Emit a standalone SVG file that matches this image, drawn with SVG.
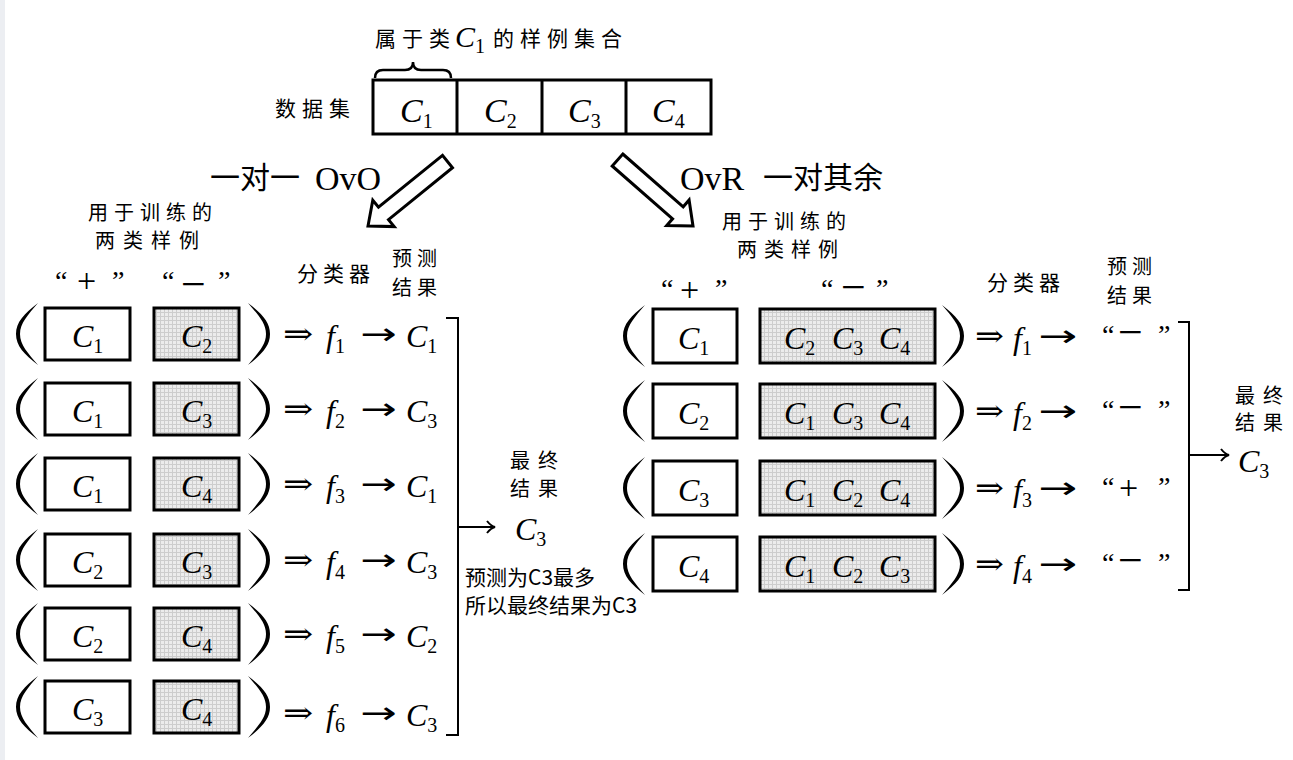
<svg xmlns="http://www.w3.org/2000/svg" width="1293" height="760" viewBox="0 0 1293 760">
<style>
.mi{font-family:"Liberation Serif",serif;font-style:italic;font-size:32px;fill:#000}
.sub{font-family:"Liberation Serif",serif;font-style:normal;font-size:20px}
.dar{font-family:"DejaVu Serif",serif;font-size:30px;fill:#000}
.sar{font-family:"DejaVu Sans",sans-serif;font-size:30px;fill:#000}
.q{font-family:"Liberation Serif",serif;font-size:28px;fill:#000}
.sg{font-size:34px}
.mn{font-size:44px}
.cjk{font-family:"Noto Sans CJK SC",sans-serif;font-size:20px;letter-spacing:6px;fill:#000}
.big{font-family:"Noto Sans CJK SC",sans-serif;font-size:30px;fill:#000}
.rm{font-family:"Liberation Serif",serif;font-size:34px;fill:#000}
.note{font-family:"Noto Sans CJK SC",sans-serif;font-size:21px;fill:#000}
.box{fill:#fff;stroke:#000;stroke-width:3}
.gbox{fill:url(#dots);stroke:#000;stroke-width:3}
.line{fill:none;stroke:#000;stroke-width:2}
.harrow{fill:#fff;stroke:#000;stroke-width:3;stroke-linejoin:miter}
</style>
<defs>
<pattern id="dots" width="4" height="4" patternUnits="userSpaceOnUse">
<rect width="4" height="4" fill="#ececec"/>
<path d="M0,0.5H4M0.5,0V4" stroke="#cdcdcd" stroke-width="1"/>
</pattern>
<path id="lp" d="M0,-31 C-14,-20 -22,-12 -22,0 C-22,12 -14,20 0,31 C-10,19 -18,11 -18,0 C-18,-11 -10,-19 0,-31 Z"/>
<path id="rp" d="M0,-31 C14,-20 22,-12 22,0 C22,12 14,20 0,31 C10,19 18,11 18,0 C18,-11 10,-19 0,-31 Z"/>
<marker id="ah" markerWidth="12" markerHeight="14" refX="10" refY="7" orient="auto" markerUnits="userSpaceOnUse">
<path d="M2,1 Q6,6 10,7 Q6,8 2,13" fill="none" stroke="#000" stroke-width="2"/>
</marker>
</defs>
<rect width="1293" height="760" fill="#fff"/>
<rect width="5" height="760" fill="#eceef2"/>

<g id="dataset">
<text class="cjk" x="275" y="116" style="font-size:21px">数据集</text>
<rect class="box" x="373" y="80" width="338" height="54"/>
<path class="line" d="M457,80V134M542,80V134M626,80V134" style="stroke-width:3"/>
<text class="mi" x="400" y="122" style="font-size:34px">C<tspan class="sub" dy="6">1</tspan></text>
<text class="mi" x="484" y="122" style="font-size:34px">C<tspan class="sub" dy="6">2</tspan></text>
<text class="mi" x="568" y="122" style="font-size:34px">C<tspan class="sub" dy="6">3</tspan></text>
<text class="mi" x="652" y="122" style="font-size:34px">C<tspan class="sub" dy="6">4</tspan></text>
</g>

<g id="c1-brace">
<path class="line" d="M375,78 Q375,70 383,70 L405,70 Q413,70 413,62 Q413,70 421,70 L443,70 Q451,70 451,78" style="stroke-width:2.5"/>
<text class="cjk" x="375" y="46" style="font-size:21px">属于类</text>
<text class="mi" x="455" y="47" style="font-size:30px">C<tspan class="sub" dy="6">1</tspan></text>
<text class="cjk" x="493" y="46" style="font-size:21px">的样例集合</text>
</g>

<g id="ovo-title">
<text class="big" x="210" y="188">一对一</text>
<text class="rm" x="315" y="190">OvO</text>
<polygon class="harrow" points="442.5,155.3 378.5,207.2 372.8,200.2 368,226 394.2,226.6 388.5,219.6 452.5,167.7"/>
</g>

<g id="ovr-title">
<polygon class="harrow" points="622.8,154 683.2,206.8 689.1,200 693,226 666.7,225.6 672.6,218.8 612.2,166"/>
<text class="rm" x="680" y="190">OvR</text>
<text class="big" x="763" y="188">一对其余</text>
</g>

<g id="ovo-headers">
<text class="cjk" x="88" y="220">用于训练的</text>
<text class="cjk" x="95" y="248" style="letter-spacing:8px">两类样例</text>
<text class="q" x="55" y="290">“<tspan class="sg" x="77" y="292">+</tspan><tspan x="112" y="290">”</tspan></text>
<text class="q" x="162" y="290">“<tspan class="mn" x="181" y="299">−</tspan><tspan x="218" y="290">”</tspan></text>
<text class="cjk" x="297" y="281" style="font-size:21px;letter-spacing:5px">分类器</text>
<text class="cjk" x="392" y="266" style="letter-spacing:5px">预测</text>
<text class="cjk" x="392" y="295" style="letter-spacing:5px">结果</text>
</g>

<g id="ovo-row1">
<use href="#lp" transform="translate(38,334)"/>
<rect class="box" x="45" y="308" width="85" height="52"/>
<rect class="gbox" x="154" y="308" width="85" height="52"/>
<use href="#rp" transform="translate(248,334)"/>
<text class="mi" x="72" y="347">C<tspan class="sub" dy="6">1</tspan></text>
<text class="mi" x="181" y="347">C<tspan class="sub" dy="6">2</tspan></text>
<text class="dar" transform="translate(283,344) scale(1.2,1)">⇒</text>
<text class="mi" x="326" y="347">f<tspan class="sub" dy="6">1</tspan></text>
<text class="sar" transform="translate(360,344) scale(1.45,1)">→</text>
<text class="mi" x="406" y="347">C<tspan class="sub" dy="6">1</tspan></text>
</g>
<g id="ovo-row2">
<use href="#lp" transform="translate(38,409)"/>
<rect class="box" x="45" y="383" width="85" height="52"/>
<rect class="gbox" x="154" y="383" width="85" height="52"/>
<use href="#rp" transform="translate(248,409)"/>
<text class="mi" x="72" y="422">C<tspan class="sub" dy="6">1</tspan></text>
<text class="mi" x="181" y="422">C<tspan class="sub" dy="6">3</tspan></text>
<text class="dar" transform="translate(283,419) scale(1.2,1)">⇒</text>
<text class="mi" x="326" y="422">f<tspan class="sub" dy="6">2</tspan></text>
<text class="sar" transform="translate(360,419) scale(1.45,1)">→</text>
<text class="mi" x="406" y="422">C<tspan class="sub" dy="6">3</tspan></text>
</g>
<g id="ovo-row3">
<use href="#lp" transform="translate(38,484)"/>
<rect class="box" x="45" y="458" width="85" height="52"/>
<rect class="gbox" x="154" y="458" width="85" height="52"/>
<use href="#rp" transform="translate(248,484)"/>
<text class="mi" x="72" y="497">C<tspan class="sub" dy="6">1</tspan></text>
<text class="mi" x="181" y="497">C<tspan class="sub" dy="6">4</tspan></text>
<text class="dar" transform="translate(283,494) scale(1.2,1)">⇒</text>
<text class="mi" x="326" y="497">f<tspan class="sub" dy="6">3</tspan></text>
<text class="sar" transform="translate(360,494) scale(1.45,1)">→</text>
<text class="mi" x="406" y="497">C<tspan class="sub" dy="6">1</tspan></text>
</g>
<g id="ovo-row4">
<use href="#lp" transform="translate(38,560)"/>
<rect class="box" x="45" y="534" width="85" height="52"/>
<rect class="gbox" x="154" y="534" width="85" height="52"/>
<use href="#rp" transform="translate(248,560)"/>
<text class="mi" x="72" y="573">C<tspan class="sub" dy="6">2</tspan></text>
<text class="mi" x="181" y="573">C<tspan class="sub" dy="6">3</tspan></text>
<text class="dar" transform="translate(283,570) scale(1.2,1)">⇒</text>
<text class="mi" x="326" y="573">f<tspan class="sub" dy="6">4</tspan></text>
<text class="sar" transform="translate(360,570) scale(1.45,1)">→</text>
<text class="mi" x="406" y="573">C<tspan class="sub" dy="6">3</tspan></text>
</g>
<g id="ovo-row5">
<use href="#lp" transform="translate(38,634)"/>
<rect class="box" x="45" y="608" width="85" height="52"/>
<rect class="gbox" x="154" y="608" width="85" height="52"/>
<use href="#rp" transform="translate(248,634)"/>
<text class="mi" x="72" y="647">C<tspan class="sub" dy="6">2</tspan></text>
<text class="mi" x="181" y="647">C<tspan class="sub" dy="6">4</tspan></text>
<text class="dar" transform="translate(283,644) scale(1.2,1)">⇒</text>
<text class="mi" x="326" y="647">f<tspan class="sub" dy="6">5</tspan></text>
<text class="sar" transform="translate(360,644) scale(1.45,1)">→</text>
<text class="mi" x="406" y="647">C<tspan class="sub" dy="6">2</tspan></text>
</g>
<g id="ovo-row6">
<use href="#lp" transform="translate(38,707)"/>
<rect class="box" x="45" y="681" width="85" height="52"/>
<rect class="gbox" x="154" y="681" width="85" height="52"/>
<use href="#rp" transform="translate(248,707)"/>
<text class="mi" x="72" y="720">C<tspan class="sub" dy="6">3</tspan></text>
<text class="mi" x="181" y="720">C<tspan class="sub" dy="6">4</tspan></text>
<text class="dar" transform="translate(283,723) scale(1.2,1)">⇒</text>
<text class="mi" x="326" y="726">f<tspan class="sub" dy="6">6</tspan></text>
<text class="sar" transform="translate(360,723) scale(1.45,1)">→</text>
<text class="mi" x="406" y="726">C<tspan class="sub" dy="6">3</tspan></text>
</g>

<g id="ovo-result">
<text class="cjk" x="510" y="468" style="font-size:20px;letter-spacing:8px">最终</text>
<text class="cjk" x="510" y="496" style="font-size:20px;letter-spacing:8px">结果</text>
<text class="mi" x="515" y="540">C<tspan class="sub" dy="6">3</tspan></text>
</g>

<g id="ovo-note">
<text class="note" x="465" y="585">预测为C3最多</text>
<text class="note" x="465" y="613">所以最终结果为C3</text>
</g>

<g id="ovr-headers">
<text class="cjk" x="722" y="229">用于训练的</text>
<text class="cjk" x="737" y="257" style="letter-spacing:7px">两类样例</text>
<text class="q" x="661" y="298">“<tspan class="sg" x="680" y="301">+</tspan><tspan x="715" y="298">”</tspan></text>
<text class="q" x="821" y="298">“<tspan class="mn" x="841" y="302">−</tspan><tspan x="876" y="298">”</tspan></text>
<text class="cjk" x="987" y="290" style="font-size:21px;letter-spacing:5px">分类器</text>
<text class="cjk" x="1107" y="274" style="letter-spacing:5px">预测</text>
<text class="cjk" x="1107" y="303" style="letter-spacing:5px">结果</text>
</g>

<g id="ovr-row1">
<use href="#lp" transform="translate(645,336)"/>
<rect class="box" x="653" y="309" width="84" height="54"/>
<rect class="gbox" x="760" y="309" width="175" height="54"/>
<use href="#rp" transform="translate(942,336)"/>
<text class="mi" x="678" y="349">C<tspan class="sub" dy="6">1</tspan></text>
<text class="mi" x="784" y="349">C<tspan class="sub" dy="6">2</tspan></text>
<text class="mi" x="832" y="349">C<tspan class="sub" dy="6">3</tspan></text>
<text class="mi" x="879" y="349">C<tspan class="sub" dy="6">4</tspan></text>
<text class="dar" transform="translate(975,346) scale(1.15,1)">⇒</text>
<text class="mi" x="1013" y="349">f<tspan class="sub" dy="6">1</tspan></text>
<text class="sar" transform="translate(1038,346) scale(1.55,1)">→</text>
<text class="q" x="1102" y="344">“<tspan class="mn" x="1118" y="347">−</tspan><tspan x="1158" y="344">”</tspan></text>
</g>
<g id="ovr-row2">
<use href="#lp" transform="translate(645,411)"/>
<rect class="box" x="653" y="384" width="84" height="54"/>
<rect class="gbox" x="760" y="384" width="175" height="54"/>
<use href="#rp" transform="translate(942,411)"/>
<text class="mi" x="678" y="424">C<tspan class="sub" dy="6">2</tspan></text>
<text class="mi" x="784" y="424">C<tspan class="sub" dy="6">1</tspan></text>
<text class="mi" x="832" y="424">C<tspan class="sub" dy="6">3</tspan></text>
<text class="mi" x="879" y="424">C<tspan class="sub" dy="6">4</tspan></text>
<text class="dar" transform="translate(975,421) scale(1.15,1)">⇒</text>
<text class="mi" x="1013" y="424">f<tspan class="sub" dy="6">2</tspan></text>
<text class="sar" transform="translate(1038,421) scale(1.55,1)">→</text>
<text class="q" x="1102" y="419">“<tspan class="mn" x="1118" y="422">−</tspan><tspan x="1158" y="419">”</tspan></text>
</g>
<g id="ovr-row3">
<use href="#lp" transform="translate(645,488)"/>
<rect class="box" x="653" y="461" width="84" height="54"/>
<rect class="gbox" x="760" y="461" width="175" height="54"/>
<use href="#rp" transform="translate(942,488)"/>
<text class="mi" x="678" y="501">C<tspan class="sub" dy="6">3</tspan></text>
<text class="mi" x="784" y="501">C<tspan class="sub" dy="6">1</tspan></text>
<text class="mi" x="832" y="501">C<tspan class="sub" dy="6">2</tspan></text>
<text class="mi" x="879" y="501">C<tspan class="sub" dy="6">4</tspan></text>
<text class="dar" transform="translate(975,498) scale(1.15,1)">⇒</text>
<text class="mi" x="1013" y="501">f<tspan class="sub" dy="6">3</tspan></text>
<text class="sar" transform="translate(1038,498) scale(1.55,1)">→</text>
<text class="q" x="1102" y="496">“<tspan class="sg" x="1119" y="499">+</tspan><tspan x="1158" y="496">”</tspan></text>
</g>
<g id="ovr-row4">
<use href="#lp" transform="translate(645,564)"/>
<rect class="box" x="653" y="537" width="84" height="54"/>
<rect class="gbox" x="760" y="537" width="175" height="54"/>
<use href="#rp" transform="translate(942,564)"/>
<text class="mi" x="678" y="577">C<tspan class="sub" dy="6">4</tspan></text>
<text class="mi" x="784" y="577">C<tspan class="sub" dy="6">1</tspan></text>
<text class="mi" x="832" y="577">C<tspan class="sub" dy="6">2</tspan></text>
<text class="mi" x="879" y="577">C<tspan class="sub" dy="6">3</tspan></text>
<text class="dar" transform="translate(975,574) scale(1.15,1)">⇒</text>
<text class="mi" x="1013" y="577">f<tspan class="sub" dy="6">4</tspan></text>
<text class="sar" transform="translate(1038,574) scale(1.55,1)">→</text>
<text class="q" x="1102" y="572">“<tspan class="mn" x="1118" y="575">−</tspan><tspan x="1158" y="572">”</tspan></text>
</g>

<g id="ovr-result">
<text class="cjk" x="1235" y="403" style="font-size:20px;letter-spacing:8px">最终</text>
<text class="cjk" x="1235" y="430" style="font-size:20px;letter-spacing:8px">结果</text>
<text class="mi" x="1238" y="472">C<tspan class="sub" dy="6">3</tspan></text>
</g>

<g id="connectors">
<path class="line" d="M446,318H458V735H446"/>
<path class="line" d="M458,527H495" marker-end="url(#ah)"/>
<path class="line" d="M1178,322H1189V590H1178"/>
<path class="line" d="M1189,455H1229" marker-end="url(#ah)"/>
</g>
</svg>
